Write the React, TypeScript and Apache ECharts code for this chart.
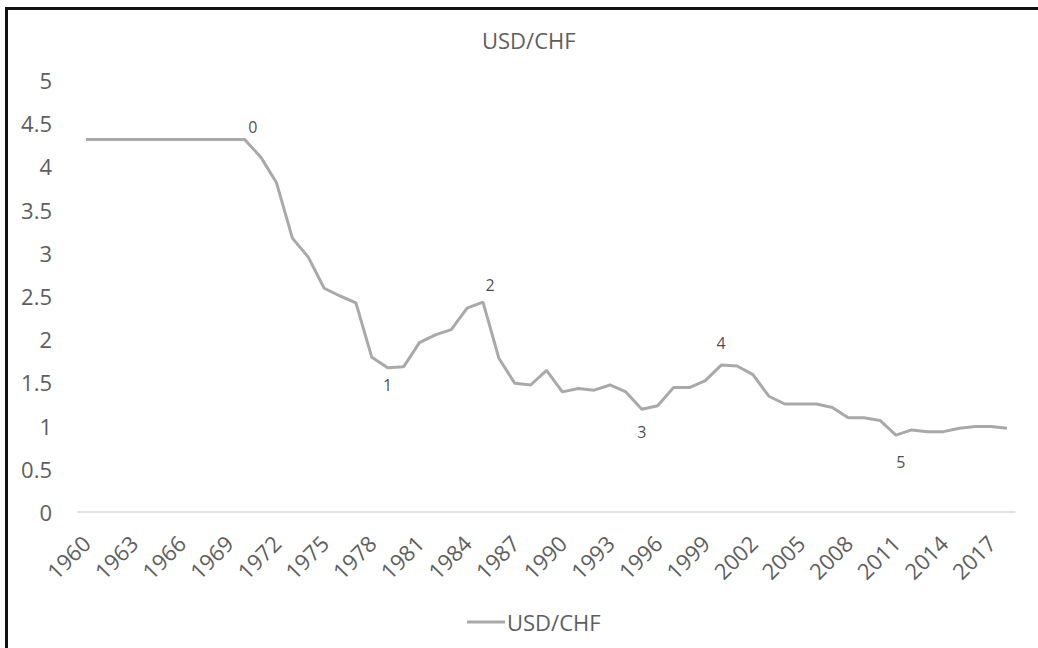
import React, { useEffect, useRef } from "react";
import * as echarts from "echarts";

const years = [
  "1960","1961","1962","1963","1964","1965","1966","1967","1968","1969",
  "1970","1971","1972","1973","1974","1975","1976","1977","1978","1979",
  "1980","1981","1982","1983","1984","1985","1986","1987","1988","1989",
  "1990","1991","1992","1993","1994","1995","1996","1997","1998","1999",
  "2000","2001","2002","2003","2004","2005","2006","2007","2008","2009",
  "2010","2011","2012","2013","2014","2015","2016","2017","2018",
];

const usdChf = [
  4.31, 4.31, 4.31, 4.31, 4.31, 4.31, 4.31, 4.31, 4.31, 4.31,
  4.31, 4.11, 3.81, 3.17, 2.95, 2.59, 2.5, 2.42, 1.79, 1.67,
  1.68, 1.96, 2.05, 2.11, 2.36, 2.43, 1.78, 1.49, 1.47, 1.64,
  1.39, 1.43, 1.41, 1.47, 1.39, 1.19, 1.23, 1.44, 1.44, 1.52,
  1.7, 1.69, 1.59, 1.34, 1.25, 1.25, 1.25, 1.21, 1.09, 1.09,
  1.06, 0.89, 0.95, 0.93, 0.93, 0.97, 0.99, 0.99, 0.97,
];

const annotYears = ["1970", "1979", "1985", "1995", "2000", "2011"];
const annotTexts = ["0", "1", "2", "3", "4", "5"];

const FONT = "'Open Sans', 'Liberation Sans', sans-serif";

export default function App() {
  const ref = useRef<HTMLDivElement>(null);

  useEffect(() => {
    if (!ref.current) return;
    const chart = echarts.init(ref.current, null, { renderer: "svg" });

    const labelStyle = [
      { position: "top", distance: 5, offset: [8, 0] },
      { position: "bottom", distance: 9, offset: [0, 0] },
      { position: "top", distance: 9, offset: [7, 0] },
      { position: "bottom", distance: 15, offset: [0, 0] },
      { position: "top", distance: 14, offset: [0, 0] },
      { position: "bottom", distance: 19, offset: [5, 0] },
    ];

    const annotData = annotYears.map((y, i) => ({
      value: [y, usdChf[years.indexOf(y)]],
      label: {
        show: true,
        formatter: annotTexts[i],
        ...labelStyle[i],
      },
    }));

    chart.setOption({
      animation: false,
      backgroundColor: "#ffffff",
      title: {
        text: "USD/CHF",
        left: 477,
        top: 24,
        textStyle: {
          fontFamily: FONT,
          fontSize: 22,
          fontWeight: "normal",
          color: "#5e5e5e",
        },
      },
      legend: {
        data: ["USD/CHF"],
        left: 462,
        top: 606,
        icon: "rect",
        itemWidth: 38,
        itemHeight: 3,
        itemGap: 4,
        textStyle: {
          fontFamily: FONT,
          fontSize: 22,
          color: "#5e5e5e",
          padding: [0, 0, 0, -3],
        },
      },
      grid: { left: 78, right: 23, top: 80, bottom: 136, containLabel: false },
      xAxis: {
        type: "category",
        data: years,
        boundaryGap: true,
        axisLine: { lineStyle: { color: "#d9d9d9", width: 1.5 } },
        axisTick: { show: false },
        axisLabel: {
          interval: 2,
          rotate: 45,
          margin: 27,
          fontFamily: FONT,
          fontSize: 22,
          color: "#5e5e5e",
        },
        splitLine: { show: false },
      },
      yAxis: {
        type: "value",
        min: 0,
        max: 5,
        interval: 0.5,
        axisLine: { show: false },
        axisTick: { show: false },
        splitLine: { show: false },
        axisLabel: {
          margin: 26,
          fontFamily: FONT,
          fontSize: 22,
          color: "#5e5e5e",
        },
      },
      series: [
        {
          name: "USD/CHF",
          type: "line",
          data: usdChf,
          symbol: "none",
          color: "#a9a9a9",
          lineStyle: { color: "#a9a9a9", width: 3 },
        },
        {
          name: "labels",
          type: "scatter",
          data: annotData,
          symbolSize: 0.1,
          itemStyle: { color: "rgba(0,0,0,0)" },
          label: {
            show: true,
            fontFamily: FONT,
            fontSize: 16,
            color: "#1a1a1a",
          },
          silent: true,
        },
      ],
      graphic: [
        { type: "rect", left: 5, top: 7, shape: { width: 1040, height: 3 }, style: { fill: "#111111" } },
        { type: "rect", left: 5, top: 7, shape: { width: 3, height: 650 }, style: { fill: "#111111" } },
      ],
    });

    return () => chart.dispose();
  }, []);

  return (
    <div
      ref={ref}
      style={{ position: "absolute", left: 0, top: 0, width: 1038, height: 648 }}
    />
  );
}
